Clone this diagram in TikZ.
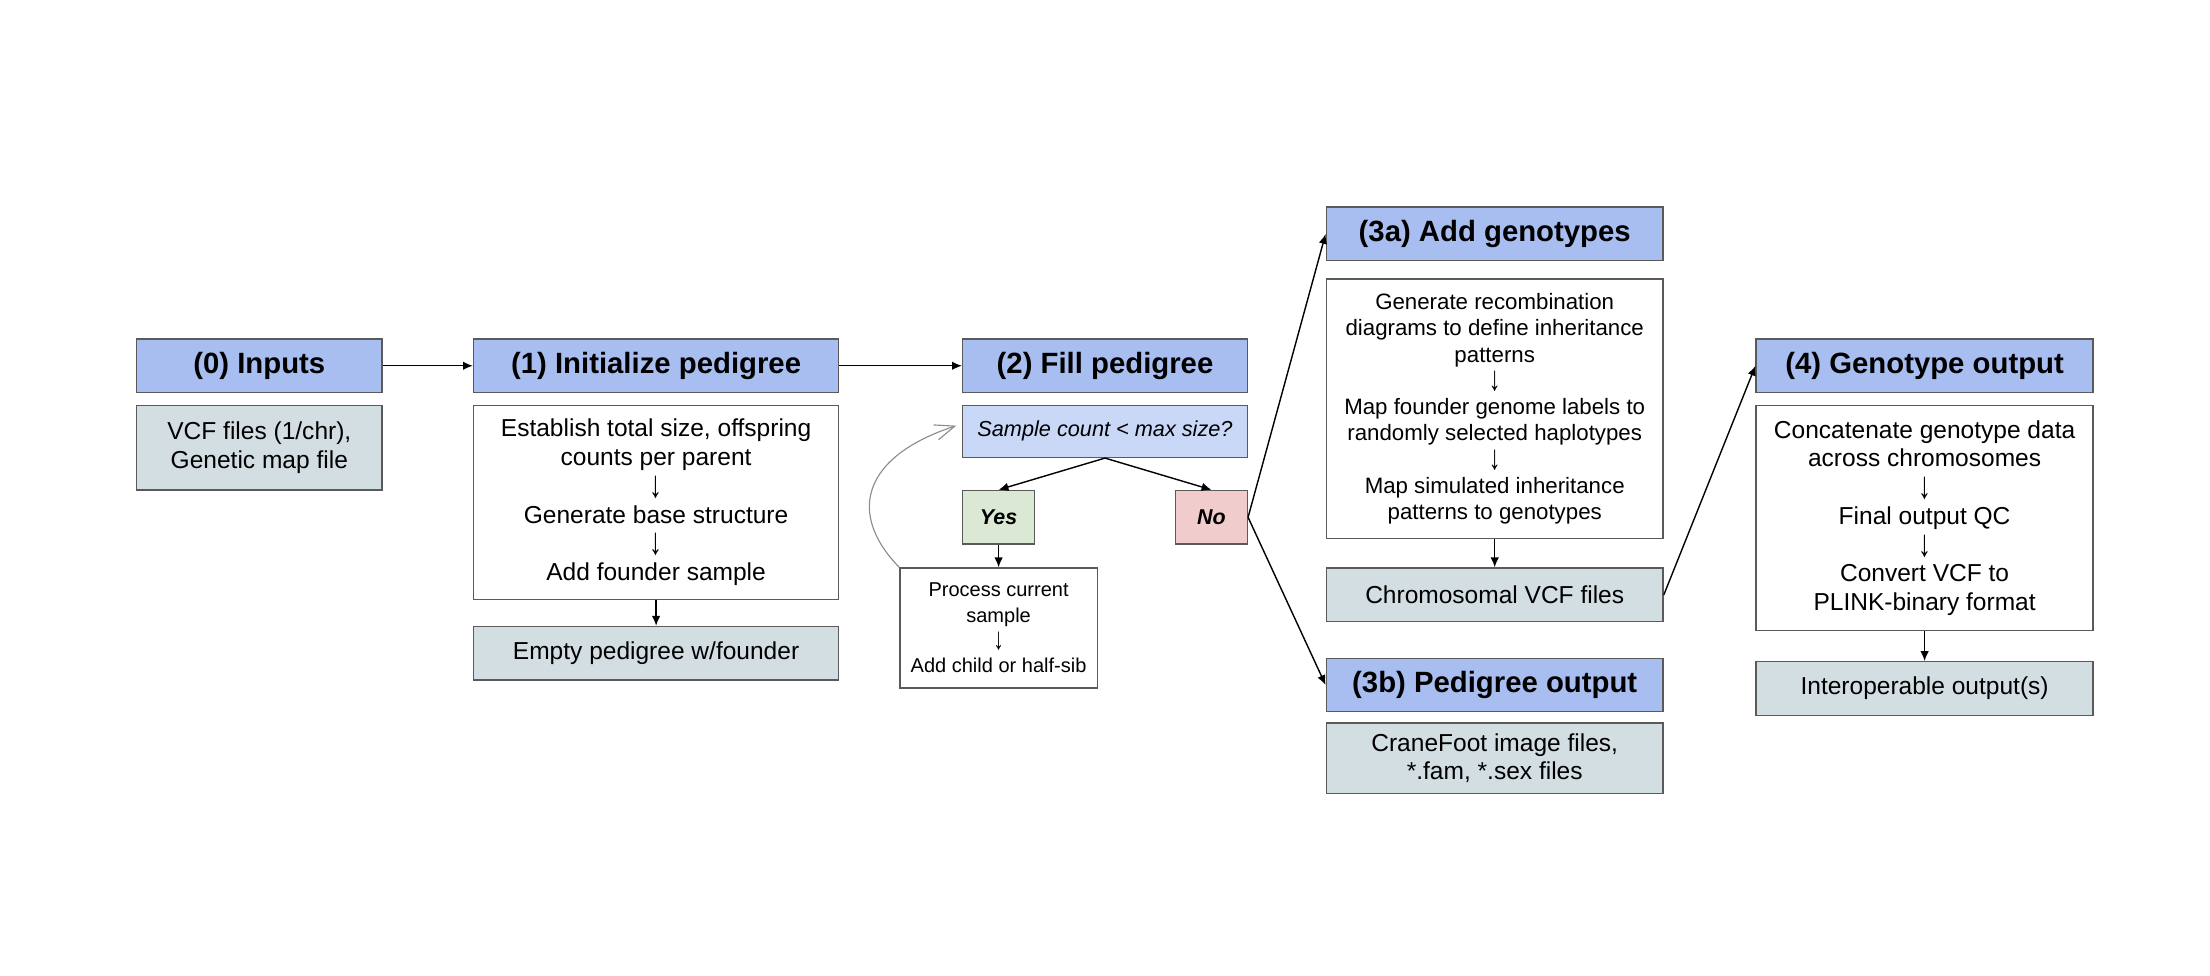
\documentclass[tikz,border=0pt]{standalone}
\usepackage{fontspec}
\usepackage{graphicx}
\setmainfont{Liberation Sans}
\usetikzlibrary{positioning,arrows.meta}

\definecolor{headblue}{RGB}{168,190,240}
\definecolor{queryblue}{RGB}{201,216,246}
\definecolor{notegray}{RGB}{211,222,226}
\definecolor{yesgreen}{RGB}{218,232,212}
\definecolor{nored}{RGB}{240,204,204}
\definecolor{rulegray}{RGB}{90,90,90}
\definecolor{loopgray}{RGB}{140,140,140}

% taller down arrow between the steps
\newcommand{\stepdown}{\raisebox{-0.12em}{\smash{\scalebox{1.05}[1.55]{↓}}}}

\begin{document}
\begin{tikzpicture}[x=0.5pt, y=-0.5pt, >={Latex[length=3.5pt,width=3pt]}, node distance=4pt]
    \tikzstyle{stage} = [draw=rulegray, fill=headblue, minimum height=19pt,
	inner sep=0pt, font=\bfseries\fontsize{10.4}{12}\selectfont]
    \tikzstyle{detail} = [draw=rulegray, fill=white, align=center, inner sep=0pt,
	font=\fontsize{8.7}{10.2}\selectfont]
    \tikzstyle{result} = [detail, fill=notegray]
    \tikzstyle{query} = [draw=rulegray, fill=queryblue, minimum height=18.5pt,
	inner sep=0pt, font=\itshape\fontsize{7.7}{9}\selectfont]
    \tikzstyle{yesbox} = [draw=rulegray, fill=yesgreen, minimum width=25.5pt,
	minimum height=19pt, inner sep=0pt, font=\bfseries\itshape\fontsize{7.6}{9}\selectfont]
    \tikzstyle{nobox} = [yesbox, fill=nored]
    \tikzstyle{loopback} = [draw=loopgray, line width=0.4pt,
	-{Straight Barb[length=7pt,width=5.5pt]}]

	\useasboundingbox (0,0) rectangle (1568,692);

	\begin{scope}
		\path[->, line width=0.5pt]
			node[stage, minimum width=87pt] (inputs) at (184,259.5) {(0) Inputs}
			node[result, minimum width=87pt, minimum height=30pt, below=of inputs] (files)
				{VCF files (1/chr),\\Genetic map file}

			node[stage, minimum width=129.5pt] (init) at (465.5,259.5) {(1) Initialize pedigree}
			node[detail, minimum width=129.5pt, minimum height=69pt, below=of init] (initsteps)
				{Establish total size, offspring\\counts per parent\\\stepdown\\Generate base structure\\\stepdown\\Add founder sample}
			node[result, minimum width=129.5pt, minimum height=19pt, below=9pt of initsteps] (empty)
				{Empty pedigree w/founder}

			node[stage, minimum width=101pt] (fill) at (784,259.5) {(2) Fill pedigree}
			node[query, minimum width=101pt, below=of fill] (count) {Sample count < max size?}
			node[yesbox] (yes) at (708.5,367) {Yes}
			node[nobox] (no) at (859.5,367) {No}
			node[detail, minimum width=70pt, minimum height=42.5pt, below=8pt of yes,
				font=\fontsize{7.1}{9}\selectfont] (process)
				{Process current\\sample\\\stepdown\\Add child or half-sib}

			node[stage, minimum width=119.5pt] (geno) at (1060.5,166) {(3a) Add genotypes}
			node[detail, minimum width=119.5pt, minimum height=92pt, below=6pt of geno,
				font=\fontsize{7.9}{9.3}\selectfont] (genosteps)
				{Generate recombination\\diagrams to define inheritance\\patterns\\\stepdown\\Map founder genome labels to\\randomly selected haplotypes\\\stepdown\\Map simulated inheritance\\patterns to genotypes}
			node[result, minimum width=119.5pt, minimum height=19pt, below=10pt of genosteps] (chrvcf)
				{Chromosomal VCF files}

			node[stage, minimum width=119.5pt] (pedout) at (1060.5,486) {(3b) Pedigree output}
			node[result, minimum width=119.5pt, minimum height=25pt, below=3.5pt of pedout] (crane)
				{CraneFoot image files,\\*.fam, *.sex files}

			node[stage, minimum width=119.5pt] (genout) at (1365.5,259.5) {(4) Genotype output}
			node[detail, minimum width=119.5pt, minimum height=80pt, below=of genout] (outsteps)
				{Concatenate genotype data\\across chromosomes\\\stepdown\\Final output QC\\\stepdown\\Convert VCF to\\PLINK-binary format}
			node[result, minimum width=119.5pt, minimum height=19pt, below=10.5pt of outsteps] (interop)
				{Interoperable output(s)}

			(inputs) edge (init)
			(init) edge (fill)
			(initsteps) edge (empty)

			(count.south) edge (yes.north)
			(count.south) edge (no.north)
			(yes) edge (process)

			(no.east) edge (geno.west)
			(no.east) edge (pedout.west)
			(genosteps) edge (chrvcf)

			(chrvcf.east) edge (genout.west)
			(outsteps) edge (interop)
		;

		% loop back to the size check
		\draw[loopback] (process.north west) .. controls +(-37,-38) and +(-67,22)
			.. ([xshift=-2pt,yshift=2pt]count.west);
	\end{scope}
\end{tikzpicture}
\end{document}
